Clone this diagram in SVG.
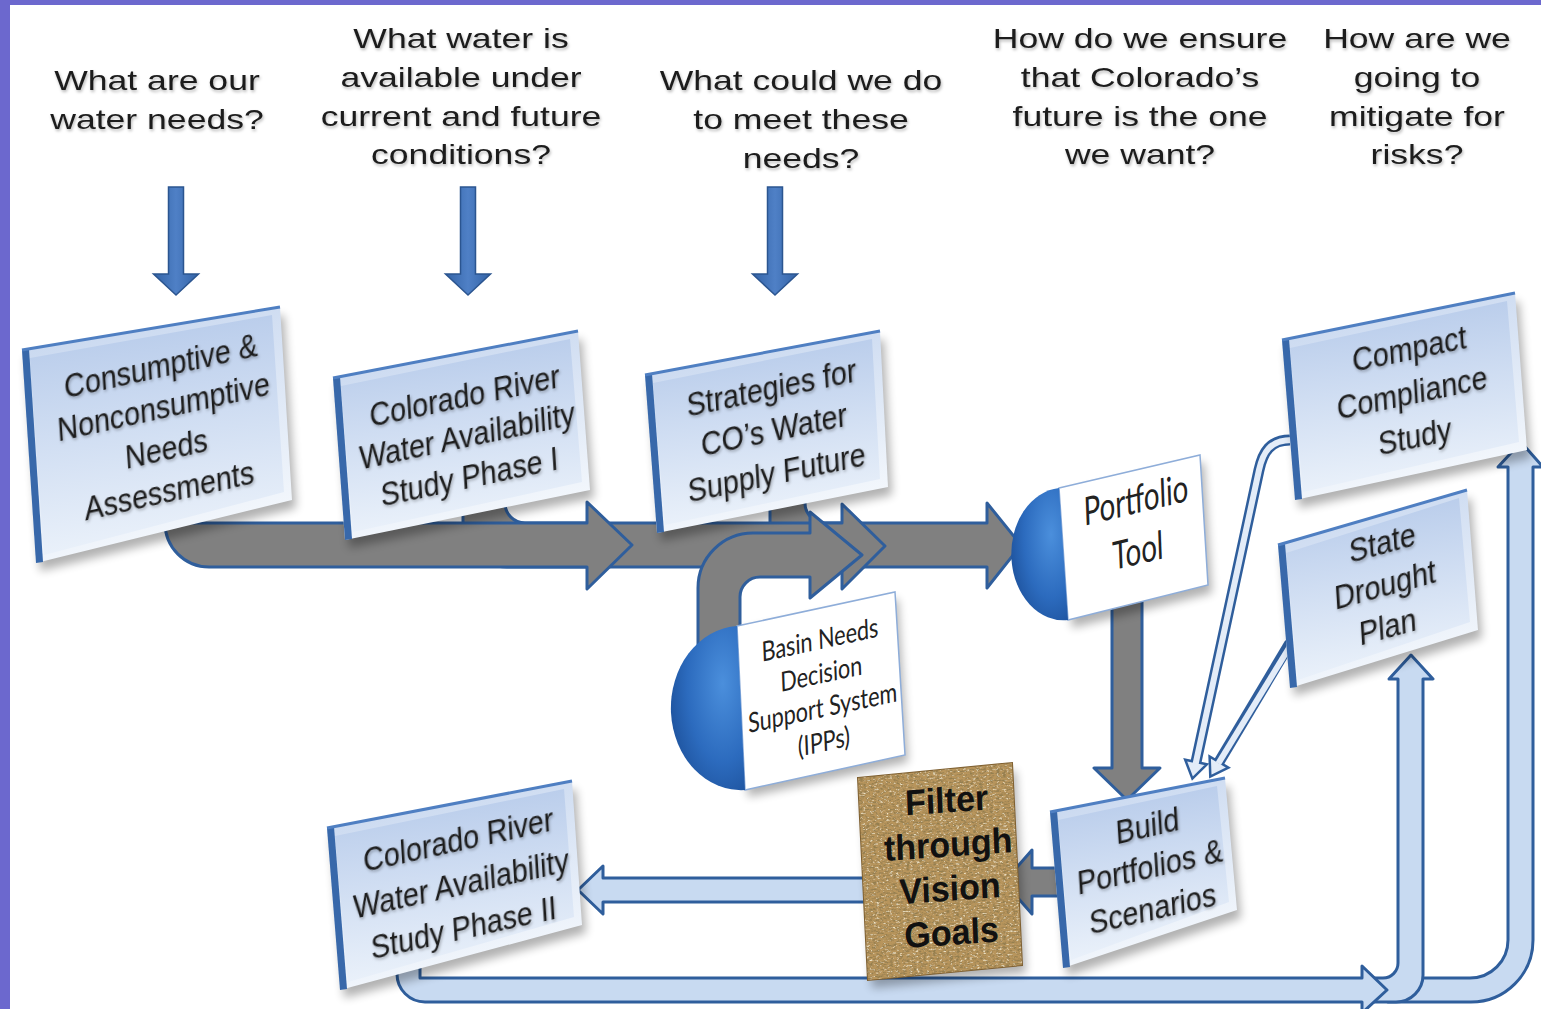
<svg xmlns="http://www.w3.org/2000/svg" width="1541" height="1009" viewBox="0 0 1541 1009">
<defs>
<style>
.q{font-family:"Liberation Sans",Arial,sans-serif;font-size:28px;fill:#1c1c1c;text-anchor:middle}
.bt{font-family:"Liberation Sans",Arial,sans-serif;font-size:30px;fill:#1e1e1e;text-anchor:middle}
.ct{font-family:Lato,"Open Sans",sans-serif;fill:#222;text-anchor:middle}
.ft{font-family:"Liberation Sans",Arial,sans-serif;font-weight:bold;font-size:34px;fill:#111;text-anchor:middle}
.gray{fill:#808080;stroke:#2F5E9C;stroke-width:3;stroke-linejoin:round}
.lb{fill:#C8DAF1;stroke:#2F5E9C;stroke-width:3;stroke-linejoin:round}
.da{fill:url(#gDown);stroke:#2B5590;stroke-width:1.5}
.thinO{fill:none;stroke:#2F5E9C;stroke-width:11}
.thinI{fill:none;stroke:#E3ECF8;stroke-width:6}
.thinH{fill:#E3ECF8;stroke:#2F5E9C;stroke-width:2.5;stroke-linejoin:miter}
.sh{fill:#000;opacity:.3}
.rim{fill:url(#gRim)}
.inner{fill:url(#gInner)}
.edgeL{fill:#3868AA}
.edgeT{stroke:#4F7FC2;stroke-width:3;fill:none}
.white{fill:#fff;stroke:#8EADD9;stroke-width:1.5}
.disc{fill:url(#gDisc)}
</style>
<linearGradient id="gDown" x1="0" y1="0" x2="1" y2="0">
<stop offset="0" stop-color="#3363A6"/><stop offset="0.5" stop-color="#4F80C6"/><stop offset="1" stop-color="#3363A6"/>
</linearGradient>
<linearGradient id="gRim" x1="0" y1="0" x2="0.3" y2="1">
<stop offset="0" stop-color="#C3D4EE"/><stop offset="1" stop-color="#F3F7FC"/>
</linearGradient>
<linearGradient id="gInner" x1="0" y1="0" x2="0.15" y2="1">
<stop offset="0" stop-color="#B3C8E9"/><stop offset="0.5" stop-color="#CFDDF2"/><stop offset="1" stop-color="#EAF1FA"/>
</linearGradient>
<radialGradient id="gDisc" cx="0.7" cy="0.35" r="0.8">
<stop offset="0" stop-color="#4B8FDC"/><stop offset="0.6" stop-color="#2C6BBE"/><stop offset="1" stop-color="#1C4F98"/>
</radialGradient>
<filter id="blur" x="-10%" y="-10%" width="120%" height="130%"><feGaussianBlur stdDeviation="5"/></filter>
<filter id="ts" x="-10%" y="-20%" width="120%" height="150%">
<feGaussianBlur in="SourceAlpha" stdDeviation="1.4"/><feOffset dx="1" dy="2" result="b"/>
<feFlood flood-color="#000" flood-opacity="0.28"/><feComposite in2="b" operator="in"/>
<feMerge><feMergeNode/><feMergeNode in="SourceGraphic"/></feMerge>
</filter>
<filter id="burlap" x="0" y="0" width="1" height="1">
<feTurbulence type="fractalNoise" baseFrequency="0.3 0.55" numOctaves="4" seed="11" result="n"/>
<feColorMatrix in="n" type="matrix" values="0 0 0 0 0.30  0 0 0 0 0.21  0 0 0 0 0.08  3.2 0 0 0 -1.35" result="dark"/>
<feColorMatrix in="n" type="matrix" values="0 0 0 0 0.92  0 0 0 0 0.84  0 0 0 0 0.62  0 -3.2 0 0 1.3" result="light"/>
<feMerge result="m"><feMergeNode in="dark"/><feMergeNode in="light"/></feMerge>
<feComposite in="m" in2="SourceGraphic" operator="atop"/>
</filter>
</defs>

<rect x="0" y="0" width="1541" height="1009" fill="#fff"/>

<g id="connectors">
<path class="da" d="M168.5,187 L183.5,187 L183.5,274 L198.5,274 L176,295 L153.5,274 L168.5,274 Z"/>
<path class="da" d="M460.5,187 L475.5,187 L475.5,274 L490.5,274 L468,295 L445.5,274 L460.5,274 Z"/>
<path class="da" d="M767.5,187 L782.5,187 L782.5,274 L797.5,274 L775,295 L752.5,274 L767.5,274 Z"/>
<path class="gray" d="M770,470 L805,470 L805,503 A20,20 0 0 0 825,523 L987,523 L987,503 L1021,545 L987,588 L987,567 L814,567 A44,44 0 0 1 770,523 Z"/>
<path class="gray" d="M463,470 L505,470 L505,503 A20,20 0 0 0 525,523 L842,523 L842,504 L885,546 L842,589 L842,567 L507,567 A44,44 0 0 1 463,523 Z"/>
<path class="gray" d="M209,523 L587,523 L587,502 L632,545 L587,589 L587,567 L209,567 A44,44 0 0 1 165,523 Z"/>
<path class="gray" d="M698,650 L698,588 A55,55 0 0 1 753,533 L810,533 L810,512 L862,555 L810,598 L810,577 L760,577 A20,20 0 0 0 740,597 L740,650 Z"/>
<path class="gray" d="M1112,590 L1142,590 L1142,768 L1160,768 L1127,800 L1094,768 L1112,768 Z"/>
<path class="gray" d="M1062,868 L1032,868 L1032,850 L1004,882 L1032,914 L1032,896 L1062,896 Z"/>
<path class="lb" d="M870,878 L603,878 L603,866 L578,890 L603,914 L603,902 L870,902 Z"/>
<path class="lb" d="M1388,978 L1470,978 A38,38 0 0 0 1508,940 L1508,467 L1498,467 L1521,442 L1543,467 L1533,467 L1533,940 A62,62 0 0 1 1471,1002 L1388,1002 Z"/>
<path class="lb" d="M1370,978 L1383,978 A15,15 0 0 0 1398,963 L1398,679 L1389,679 L1411,655 L1433,679 L1423,679 L1423,975 A27,27 0 0 1 1396,1002 L1370,1002 Z"/>
<path class="lb" d="M397,945 L420,945 L420,978 L1362,978 L1362,966 L1387,990 L1362,1013 L1362,1002 L425,1002 A28,28 0 0 1 397,974 Z"/>
<path class="thinO" d="M1290,440 C1270,440 1263,452 1259,470 L1196,762"/>
<path class="thinO" d="M1290,643 L1219,762"/>
<polygon class="thinH" points="1206.8,764.3 1192.4,778.6 1185.2,759.7"/>
<polygon class="thinH" points="1228.4,767.6 1210.3,776.6 1209.6,756.4"/>
<path class="thinI" d="M1292,440 C1270,440 1263,452 1259,470 L1195.6,764"/>
<path class="thinI" d="M1292,643 L1218.3,763.5"/>
</g>

<g id="q1"><text class="q" filter="url(#ts)" transform="matrix(1.27 0 0 1 157 0)"><tspan x="0" y="90">What are our</tspan><tspan x="0" y="129">water needs?</tspan></text></g>
<g id="q2"><text class="q" filter="url(#ts)" transform="matrix(1.27 0 0 1 461 0)"><tspan x="0" y="48">What water is</tspan><tspan x="0" y="87">available under</tspan><tspan x="0" y="126">current and future</tspan><tspan x="0" y="164">conditions?</tspan></text></g>
<g id="q3"><text class="q" filter="url(#ts)" transform="matrix(1.27 0 0 1 801 0)"><tspan x="0" y="90">What could we do</tspan><tspan x="0" y="129">to meet these</tspan><tspan x="0" y="168">needs?</tspan></text></g>
<g id="q4"><text class="q" filter="url(#ts)" transform="matrix(1.27 0 0 1 1140 0)"><tspan x="0" y="48">How do we ensure</tspan><tspan x="0" y="87">that Colorado’s</tspan><tspan x="0" y="126">future is the one</tspan><tspan x="0" y="164">we want?</tspan></text></g>
<g id="q5"><text class="q" filter="url(#ts)" transform="matrix(1.27 0 0 1 1417 0)"><tspan x="0" y="48">How are we</tspan><tspan x="0" y="87">going to</tspan><tspan x="0" y="126">mitigate for</tspan><tspan x="0" y="164">risks?</tspan></text></g>

<g id="node-needs">
<polygon class="sh" filter="url(#blur)" points="26,358 284,315 296,508 40,571"/>
<polygon class="rim" points="22,350 280,307 292,500 36,563"/>
<polygon class="inner" points="30,358 272,315 284,492 44,555"/>
<polygon class="edgeL" points="22,350 29,349 43,562 36,563"/>
<line class="edgeT" x1="22" y1="350" x2="280" y2="307"/>
<text class="bt" filter="url(#ts)" transform="matrix(0.95 -0.21 0.075 1.12 165 428)"><tspan x="0" y="-45.5">Consumptive &amp;</tspan><tspan x="0" y="-8.5">Nonconsumptive</tspan><tspan x="0" y="28.5">Needs</tspan><tspan x="0" y="65.5">Assessments</tspan></text>
</g>

<g id="node-crwas1">
<polygon class="sh" filter="url(#blur)" points="337,386 582,339 594,498 349,548"/>
<polygon class="rim" points="333,378 578,331 590,490 345,540"/>
<polygon class="inner" points="341,386 570,339 582,482 353,532"/>
<polygon class="edgeL" points="333,378 340,377 352,539 345,540"/>
<line class="edgeT" x1="333" y1="378" x2="578" y2="331"/>
<text class="bt" filter="url(#ts)" transform="matrix(0.95 -0.2 0.07 1.12 467 436)"><tspan x="0" y="-26">Colorado River</tspan><tspan x="0" y="10">Water Availability</tspan><tspan x="0" y="46">Study Phase I</tspan></text>
</g>

<g id="node-strategies">
<polygon class="sh" filter="url(#blur)" points="649,383 884,339 892,495 661,541"/>
<polygon class="rim" points="645,375 880,331 888,487 657,533"/>
<polygon class="inner" points="653,383 872,339 880,479 665,525"/>
<polygon class="edgeL" points="645,375 652,374 664,532 657,533"/>
<line class="edgeT" x1="645" y1="375" x2="880" y2="331"/>
<text class="bt" filter="url(#ts)" transform="matrix(0.95 -0.2 0.07 1.12 774 430)"><tspan x="0" y="-28">Strategies for</tspan><tspan x="0" y="10">CO’s Water</tspan><tspan x="0" y="48">Supply Future</tspan></text>
</g>

<g id="node-portfolio-tool">
<polygon class="sh" filter="url(#blur)" points="1062,495 1204,462 1212,593 1072,628"/>
<polygon class="white" points="1059,488 1200,455 1208,585 1068,620"/>
<path class="disc" d="M1059,488 A52,66 0 0 0 1068,620 Z"/>
<text class="ct" font-size="30" transform="matrix(0.92 -0.22 0.05 1.3 1137 527)"><tspan x="0" y="-10.6">Portfolio</tspan><tspan x="0" y="28.6">Tool</tspan></text>
</g>

<g id="node-basin">
<polygon class="sh" filter="url(#blur)" points="738,632 898,599 908,762 748,797"/>
<polygon class="white" points="737,626 895,592 905,755 745,790"/>
<path class="disc" d="M737,626 A70,82 0 0 0 745,790 Z"/>
<text class="ct" font-size="22" transform="matrix(0.98 -0.21 0.05 1.25 822 692)"><tspan x="0" y="-34.3">Basin Needs</tspan><tspan x="0" y="-7.1">Decision</tspan><tspan x="0" y="20.1">Support System</tspan><tspan x="0" y="47.3">(IPPs)</tspan></text>
</g>

<g id="node-compact">
<polygon class="sh" filter="url(#blur)" points="1286,348 1519,301 1531,458 1299,508"/>
<polygon class="rim" points="1282,340 1515,293 1527,450 1295,500"/>
<polygon class="inner" points="1290,348 1507,301 1519,442 1303,492"/>
<polygon class="edgeL" points="1282,340 1289,339 1302,499 1295,500"/>
<line class="edgeT" x1="1282" y1="340" x2="1515" y2="293"/>
<text class="bt" filter="url(#ts)" transform="matrix(0.95 -0.2 0.07 1.12 1412 393)"><tspan x="0" y="-29">Compact</tspan><tspan x="0" y="10">Compliance</tspan><tspan x="0" y="49">Study</tspan></text>
</g>

<g id="node-drought">
<polygon class="sh" filter="url(#blur)" points="1282,553 1471,498 1482,638 1294,696"/>
<polygon class="rim" points="1278,545 1467,490 1478,630 1290,688"/>
<polygon class="inner" points="1286,553 1459,498 1470,622 1298,680"/>
<polygon class="edgeL" points="1278,545 1285,544 1297,687 1290,688"/>
<line class="edgeT" x1="1278" y1="545" x2="1467" y2="490"/>
<text class="bt" filter="url(#ts)" transform="matrix(0.95 -0.26 0.07 1.12 1385 585)"><tspan x="0" y="-27.5">State</tspan><tspan x="0" y="10">Drought</tspan><tspan x="0" y="47.5">Plan</tspan></text>
</g>

<g id="node-build">
<polygon class="sh" filter="url(#blur)" points="1054,820 1229,786 1241,918 1067,976"/>
<polygon class="rim" points="1050,812 1225,778 1237,910 1063,968"/>
<polygon class="inner" points="1058,820 1217,786 1229,902 1071,960"/>
<polygon class="edgeL" points="1050,812 1057,811 1070,967 1063,968"/>
<line class="edgeT" x1="1050" y1="812" x2="1225" y2="778"/>
<text class="bt" filter="url(#ts)" transform="matrix(0.95 -0.22 0.07 1.12 1150 867)"><tspan x="0" y="-27">Build</tspan><tspan x="0" y="10">Portfolios &amp;</tspan><tspan x="0" y="47">Scenarios</tspan></text>
</g>

<g id="node-filter">
<polygon class="sh" filter="url(#blur)" points="862,786 1016,771 1026,973 872,988"/>
<polygon points="858,778 1012,763 1022,965 868,980" fill="#B8955C" stroke="#7E5F30" stroke-width="2"/>
<polygon points="858,778 1012,763 1022,965 868,980" fill="#B8955C" filter="url(#burlap)"/>
<text class="ft" transform="matrix(1 -0.07 0.04 1.05 949 866)"><tspan x="0" y="-51">Filter</tspan><tspan x="0" y="-9">through</tspan><tspan x="0" y="33">Vision</tspan><tspan x="0" y="75">Goals</tspan></text>
</g>

<g id="node-crwas2">
<polygon class="sh" filter="url(#blur)" points="331,836 576,789 586,933 344,998"/>
<polygon class="rim" points="327,828 572,781 582,925 340,990"/>
<polygon class="inner" points="335,836 564,789 574,917 348,982"/>
<polygon class="edgeL" points="327,828 334,827 347,989 340,990"/>
<line class="edgeT" x1="327" y1="828" x2="572" y2="781"/>
<text class="bt" filter="url(#ts)" transform="matrix(0.95 -0.21 0.07 1.12 461 884)"><tspan x="0" y="-29">Colorado River</tspan><tspan x="0" y="10">Water Availability</tspan><tspan x="0" y="49">Study Phase II</tspan></text>
</g>

<rect x="0" y="0" width="10" height="1009" fill="#6C68CE"/>
<rect x="0" y="0" width="1541" height="5" fill="#6C68CE"/>
</svg>
